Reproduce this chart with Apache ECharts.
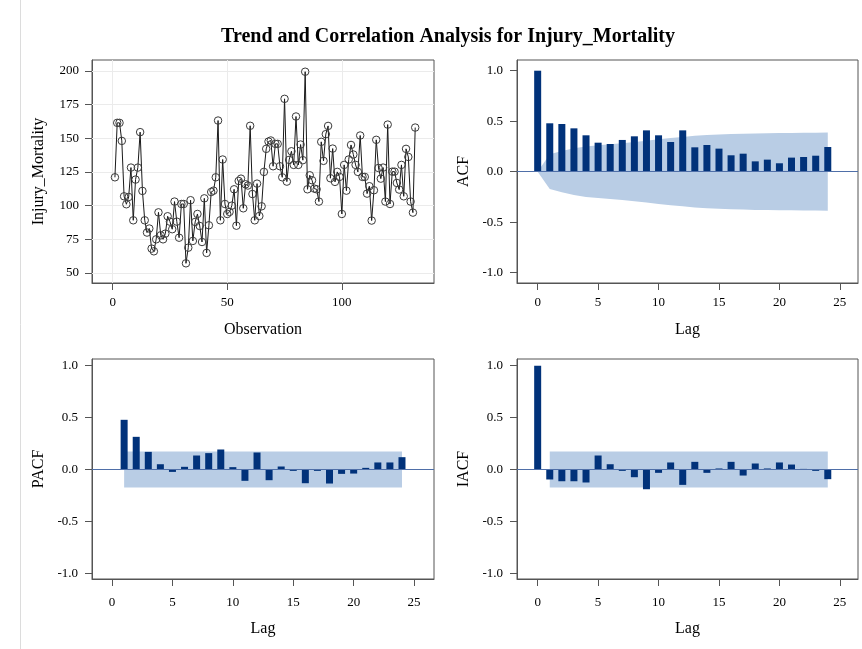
<!DOCTYPE html>
<html><head><meta charset="utf-8">
<script src="https://cdn.jsdelivr.net/npm/echarts@6.0.0/dist/echarts.min.js"></script>
<style>html,body{margin:0;padding:0;background:#fff}#c{width:862px;height:649px}</style>
</head><body><div id="c"></div>
<script>
// ---- data ----
const injuryMortality = [121,161.4,161.4,148,106.9,101,106.4,128.2,89.1,119.3,128.2,154.5,110.9,89.1,80,83,68.1,66.1,75,95,
78,75,79.2,92.1,88.1,82.5,103,88.1,76.2,101.2,101.2,57.2,68.8,104,73.8,87.9,93.8,84.9,73,105.4,
64.9,85.4,110.1,111.1,121,163.1,89.1,134.2,101.2,93.8,95.3,100,112.1,85.1,118.3,120,98,115.8,114.9,159.2,
108.6,89.1,116.3,92.3,99.5,125,142.1,147.5,148.3,129.2,145.8,145.8,129.2,121,179.2,117.8,133.9,140.3,130.2,166.1,
130.2,145.3,133.7,199.3,112.1,122.5,118.8,112.6,112.1,103,147.3,133.2,153,159.1,120.3,142.3,117.6,125,121.3,93.8,
130.2,111.1,134.2,145,137.9,130.2,125,152,121.3,121.3,108.9,114.4,88.9,111.4,148.8,127.9,120,128.2,103,160.1,
101.2,125.2,125.2,116.8,111.9,130.2,106.9,142.1,136.1,103,94.8,157.9];
const acfLags = [0,1,2,3,4,5,6,7,8,9,10,11,12,13,14,15,16,17,18,19,20,21,22,23,24];
const acfValues = [1.0,0.479,0.472,0.429,0.360,0.287,0.274,0.314,0.350,0.409,0.360,0.294,0.409,0.241,0.264,0.228,0.162,0.178,0.102,0.119,0.083,0.139,0.145,0.158,0.244];
const acfBand = [0,0.173,0.205,0.232,0.250,0.262,0.272,0.282,0.293,0.306,0.320,0.333,0.343,0.355,0.362,0.368,0.373,0.376,0.379,0.380,0.382,0.383,0.385,0.386,0.388];
const pacfLags = [1,2,3,4,5,6,7,8,9,10,11,12,13,14,15,16,17,18,19,20,21,22,23,24];
const pacfValues = [0.479,0.315,0.170,0.051,-0.023,0.026,0.135,0.158,0.193,0.023,-0.109,0.164,-0.103,0.029,-0.013,-0.132,-0.013,-0.135,-0.042,-0.039,0.016,0.068,0.068,0.119];
const iacfLags = [0,1,2,3,4,5,6,7,8,9,10,11,12,13,14,15,16,17,18,19,20,21,22,23,24];
const iacfValues = [1.0,-0.096,-0.113,-0.113,-0.125,0.135,0.051,-0.013,-0.074,-0.190,-0.032,0.068,-0.148,0.074,-0.032,0.010,0.074,-0.058,0.058,0.010,0.068,0.048,0.006,-0.013,-0.093];
const whiteNoiseBandLags = [1,24];
const whiteNoiseBand = [0.1734,0.1734];
const tsXTicks = [0,50,100];
const tsYTicks = [50,75,100,125,150,175,200];
const lagTicks = [0,5,10,15,20,25];
const corrTicks = [-1,-0.5,0,0.5,1];

// ---- styles ----
const SERIF = "'Liberation Serif','DejaVu Serif',serif";
const FRAME = '#555';
const BAR = '#01327a';
const BANDC = '#b9cde5';
const ZEROC = '#4f6fa8';

const grids = [
  {left:92, top:60, width:342, height:223},
  {left:517, top:60, width:341, height:223},
  {left:92, top:359, width:342, height:220},
  {left:517, top:359, width:341, height:220}
].map(g => Object.assign({show:true, borderColor:FRAME, borderWidth:1, backgroundColor:'#fff', outerBoundsMode:'none'}, g));

function axis(gi, min, max, ticks, name, gap, fmt, margin) {
  return {
    gridIndex: gi, type: 'value', min: min, max: max,
    name: name, nameLocation: 'middle', nameGap: gap,
    nameTextStyle: {fontFamily: SERIF, fontSize: 16, color: '#000'},
    axisLine: {show: true, onZero: false, lineStyle: {color: FRAME, width: 1}},
    axisTick: {show: true, customValues: ticks, length: 7, lineStyle: {color: FRAME}},
    axisLabel: {customValues: ticks, fontFamily: SERIF, fontSize: 13, color: '#000', margin: margin,
      formatter: fmt},
    splitLine: {show: false}
  };
}
const f1 = v => Number(v).toFixed(1);
const f0 = v => String(v);

const xAxis = [
  axis(0, -9, 140.2, tsXTicks, 'Observation', 39, f0, 13),
  axis(1, -1.71, 26.5, lagTicks, 'Lag', 39, f0, 13),
  axis(2, -1.66, 26.65, lagTicks, 'Lag', 42, f0, 17),
  axis(3, -1.71, 26.5, lagTicks, 'Lag', 42, f0, 17)
];
const yAxis = [
  axis(0, 42.6, 208, tsYTicks, 'Injury_Mortality', 45, f0, 13),
  axis(1, -1.103, 1.106, corrTicks, 'ACF', 45, f1, 14),
  axis(2, -1.055, 1.065, corrTicks, 'PACF', 45, f1, 14),
  axis(3, -1.055, 1.065, corrTicks, 'IACF', 45, f1, 14)
];

const gridLineData = tsXTicks.map(v => ({xAxis: v})).concat(tsYTicks.map(v => ({yAxis: v})));

function bandSeries(gi, lags, vals, sign) {
  return {
    type: 'line', xAxisIndex: gi, yAxisIndex: gi, z: 1, silent: true,
    data: lags.map((l, i) => [l, sign * vals[i]]),
    symbol: 'none', lineStyle: {width: 0, opacity: 0},
    areaStyle: {color: BANDC, opacity: 1}
  };
}
function barSeries(gi, lags, vals) {
  return {
    type: 'bar', xAxisIndex: gi, yAxisIndex: gi, z: 3, barWidth: 7,
    data: lags.map((l, i) => [l, vals[i]]),
    itemStyle: {color: BAR},
    markLine: {silent: true, symbol: 'none', label: {show: false}, animation: false,
      lineStyle: {color: ZEROC, width: 1, type: 'solid'}, data: [{yAxis: 0}]}
  };
}

const option = {
  animation: false,
  backgroundColor: '#fff',
  title: {text: 'Trend and Correlation Analysis for Injury_Mortality', left: 443, top: 22, textAlign: 'center',
    textStyle: {fontFamily: SERIF, fontWeight: 'bold', fontSize: 20, color: '#000'}},
  grid: grids,
  xAxis: xAxis,
  yAxis: yAxis,
  graphic: [{type: 'line', shape: {x1: 20.5, y1: 0, x2: 20.5, y2: 649}, style: {stroke: '#dcdcdc', lineWidth: 1}, silent: true}],
  series: [
    {
      type: 'line', xAxisIndex: 0, yAxisIndex: 0, z: 3,
      data: injuryMortality.map((v, i) => [i + 1, v]),
      symbol: 'circle', symbolSize: 7.5, showAllSymbol: true,
      itemStyle: {color: 'rgba(255,255,255,0)', borderColor: '#3a3a3a', borderWidth: 1},
      lineStyle: {color: '#1a1a1a', width: 1},
      markLine: {silent: true, symbol: 'none', label: {show: false}, z: 1,
        lineStyle: {color: '#ebebeb', width: 1, type: 'solid'}, data: gridLineData}
    },
    bandSeries(1, acfLags, acfBand, 1), bandSeries(1, acfLags, acfBand, -1),
    barSeries(1, acfLags, acfValues),
    bandSeries(2, whiteNoiseBandLags, whiteNoiseBand, 1), bandSeries(2, whiteNoiseBandLags, whiteNoiseBand, -1),
    barSeries(2, pacfLags, pacfValues),
    bandSeries(3, whiteNoiseBandLags, whiteNoiseBand, 1), bandSeries(3, whiteNoiseBandLags, whiteNoiseBand, -1),
    barSeries(3, iacfLags, iacfValues)
  ]
};
const chart = echarts.init(document.getElementById('c'), null, {renderer: 'canvas'});
chart.setOption(option);
</script>
</body></html>
